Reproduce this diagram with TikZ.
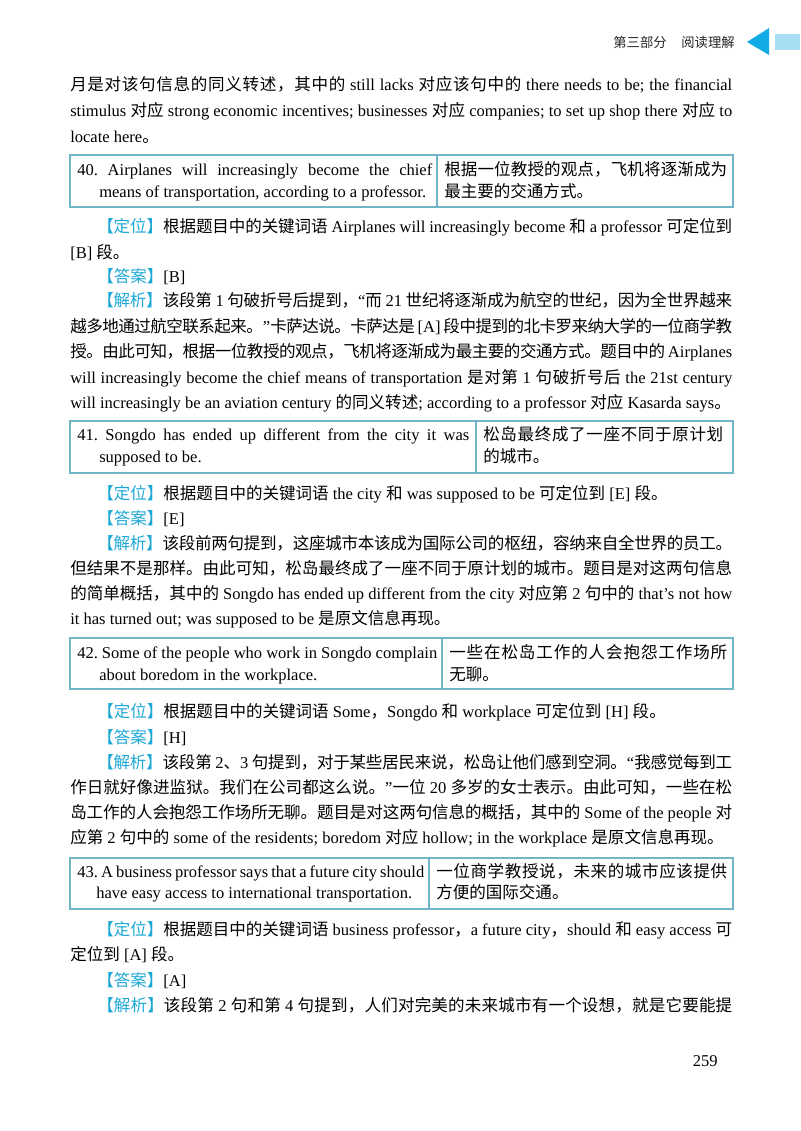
\documentclass[tikz,border=0pt]{standalone}
\usepackage{fontspec}
\setmainfont{Liberation Serif}
\newfontfamily\cjk{Noto Sans CJK SC}
\usepackage{tikz}
\usetikzlibrary{positioning}

\definecolor{tagblue}{RGB}{30,168,214}
\definecolor{boxline}{RGB}{112,182,198}
\definecolor{headblue}{RGB}{18,170,228}
\definecolor{headbar}{RGB}{168,222,244}

% CJK characters switch to the CJK font by themselves
\XeTeXinterchartokenstate=1
\newXeTeXintercharclass\cjkclass
\makeatletter
\def\setcjkrange#1#2{\count@=#1\relax
  \loop\XeTeXcharclass\count@=\cjkclass
  \advance\count@ by 1\relax
  \ifnum\count@<#2\repeat}
\makeatother
\setcjkrange{"3000}{"3040}
\setcjkrange{"4E00}{"A000}
\setcjkrange{"FF00}{"FFF0}
\XeTeXinterchartoks 0 \cjkclass = {\cjk}
\XeTeXinterchartoks 1 \cjkclass = {\cjk}
\XeTeXinterchartoks 2 \cjkclass = {\cjk}
\XeTeXinterchartoks 3 \cjkclass = {\cjk}
\XeTeXinterchartoks 4095 \cjkclass = {\cjk}
\XeTeXinterchartoks \cjkclass 0 = {\rmfamily}
\XeTeXinterchartoks \cjkclass 1 = {\rmfamily}
\XeTeXinterchartoks \cjkclass 2 = {\rmfamily}
\XeTeXinterchartoks \cjkclass 3 = {\rmfamily}
\XeTeXinterchartoks \cjkclass 4095 = {\rmfamily}
\XeTeXinterchartoks \cjkclass \cjkclass = {\hskip 0pt plus 1.5pt minus 0.4pt}

\newdimen\pxu \pxu=0.75pt
\newcommand\hint[1]{{\color{tagblue}\cjk【#1】}}
\newcommand\fullline[1]{\hbox to 662\pxu{#1}}
\newcommand\indline[1]{\hbox to 635\pxu{#1}}

\tikzset{
  txt/.style={anchor=west, inner sep=0pt, text height=9pt, text depth=3pt},
  qbox/.style={draw=boxline, line width=0.9pt},
}

\begin{document}
\frenchspacing
\begin{tikzpicture}[x=0.75pt, y=-0.75pt, font=\fontsize{12.4}{15}\selectfont]
\useasboundingbox (0,0) rectangle (800,1131);
% header
\node[anchor=east, inner sep=0pt, text=black!85, font=\fontsize{10}{12}\selectfont\cjk] (head) at (735,42) {第三部分\hspace{1.1em}阅读理解};
\fill[headblue] (747,42) -- (769,28) -- (769,55) -- cycle;
\fill[headbar] (775,34) rectangle (800,50);

% end of question 39
\node[txt] (t1) at (70,86) {\fullline{月是对该句信息的同义转述，其中的 still lacks 对应该句中的 there needs to be; the financial}};
\node[txt] (t2) at (70,112) {\fullline{stimulus 对应 strong economic incentives; businesses 对应 companies; to set up shop there 对应 to}};
\node[txt] (t3) at (70,138) {locate here。};

% question 40
\draw[qbox] (70,155) rectangle (733,207);
\draw[qbox] (437,155) -- (437,207);
\node[txt] (b40a) at (77,171) {\hbox to 355\pxu{40. Airplanes will increasingly become the chief}};
\node[txt] (b40b) at (99,193) {means of transportation, according to a professor.};
\node[txt] (b40c) at (444,171) {\hbox to 283\pxu{根据一位教授的观点，飞机将逐渐成为}};
\node[txt] (b40d) at (444,193) {最主要的交通方式。};
\node[txt] (d40a) at (97,228) {\indline{\hint{定位}根据题目中的关键词语 Airplanes will increasingly become 和 a professor 可定位到}};
\node[txt] (d40b) at (70,254) {[B] 段。};
\node[txt] (a40) at (97,278) {\hint{答案}[B]};
\node[txt] (j40a) at (97,302) {\indline{\hint{解析}该段第 1 句破折号后提到，“而 21 世纪将逐渐成为航空的世纪，因为全世界越来}};
\node[txt] (j40b) at (70,328) {\fullline{越多地通过航空联系起来。”卡萨达说。卡萨达是 [A] 段中提到的北卡罗来纳大学的一位商学教}};
\node[txt] (j40c) at (70,353) {\fullline{授。由此可知，根据一位教授的观点，飞机将逐渐成为最主要的交通方式。题目中的 Airplanes}};
\node[txt] (j40d) at (70,379) {\fullline{will increasingly become the chief means of transportation 是对第 1 句破折号后 the 21st century}};
\node[txt] (j40e) at (70,404) {will increasingly be an aviation century 的同义转述; according to a professor 对应 Kasarda says。};

% question 41
\draw[qbox] (70,421) rectangle (733,473);
\draw[qbox] (476,421) -- (476,473);
\node[txt] (b41a) at (77,436) {\hbox to 392\pxu{41. Songdo has ended up different from the city it was}};
\node[txt] (b41b) at (99,458) {supposed to be.};
\node[txt] (b41c) at (483,436) {\hbox to 240\pxu{松岛最终成了一座不同于原计划}};
\node[txt] (b41d) at (483,458) {的城市。};
\node[txt] (d41) at (97,495) {\hint{定位}根据题目中的关键词语 the city 和 was supposed to be 可定位到 [E] 段。};
\node[txt] (a41) at (97,520) {\hint{答案}[E]};
\node[txt] (j41a) at (97,545) {\indline{\hint{解析}该段前两句提到，这座城市本该成为国际公司的枢纽，容纳来自全世界的员工。}};
\node[txt] (j41b) at (70,570) {\fullline{但结果不是那样。由此可知，松岛最终成了一座不同于原计划的城市。题目是对这两句信息}};
\node[txt] (j41c) at (70,595) {\fullline{的简单概括，其中的 Songdo has ended up different from the city 对应第 2 句中的 that’s not how}};
\node[txt] (j41d) at (70,620) {it has turned out; was supposed to be 是原文信息再现。};

% question 42
\draw[qbox] (70,638) rectangle (733,689);
\draw[qbox] (442,638) -- (442,689);
\node[txt] (b42a) at (77,654) {\hbox to 360\pxu{42. Some of the people who work in Songdo complain}};
\node[txt] (b42b) at (99,676) {about boredom in the workplace.};
\node[txt] (b42c) at (449,654) {\hbox to 278\pxu{一些在松岛工作的人会抱怨工作场所}};
\node[txt] (b42d) at (449,676) {无聊。};
\node[txt] (d42) at (97,713) {\hint{定位}根据题目中的关键词语 Some，Songdo 和 workplace 可定位到 [H] 段。};
\node[txt] (a42) at (97,739) {\hint{答案}[H]};
\node[txt] (j42a) at (97,764) {\indline{\hint{解析}该段第 2、3 句提到，对于某些居民来说，松岛让他们感到空洞。“我感觉每到工}};
\node[txt] (j42b) at (70,789) {\fullline{作日就好像进监狱。我们在公司都这么说。”一位 20 多岁的女士表示。由此可知，一些在松}};
\node[txt] (j42c) at (70,814) {\fullline{岛工作的人会抱怨工作场所无聊。题目是对这两句信息的概括，其中的 Some of the people 对}};
\node[txt] (j42d) at (70,839) {应第 2 句中的 some of the residents; boredom 对应 hollow; in the workplace 是原文信息再现。};

% question 43
\draw[qbox] (70,858) rectangle (733,909);
\draw[qbox] (429,858) -- (429,909);
\node[txt] (b43a) at (77,873) {\hbox to 347\pxu{43. A business professor says that a future city should}};
\node[txt] (b43b) at (96,894) {have easy access to international transportation.};
\node[txt] (b43c) at (436,873) {\hbox to 291\pxu{一位商学教授说，未来的城市应该提供}};
\node[txt] (b43d) at (436,894) {方便的国际交通。};
\node[txt] (d43a) at (97,931) {\indline{\hint{定位}根据题目中的关键词语 business professor，a future city，should 和 easy access 可}};
\node[txt] (d43b) at (70,956) {定位到 [A] 段。};
\node[txt] (a43) at (97,982) {\hint{答案}[A]};
\node[txt] (j43) at (97,1007) {\indline{\hint{解析}该段第 2 句和第 4 句提到，人们对完美的未来城市有一个设想，就是它要能提}};

% page number
\node[txt, anchor=east] (pnum) at (718,1062) {259};
\end{tikzpicture}
\end{document}
